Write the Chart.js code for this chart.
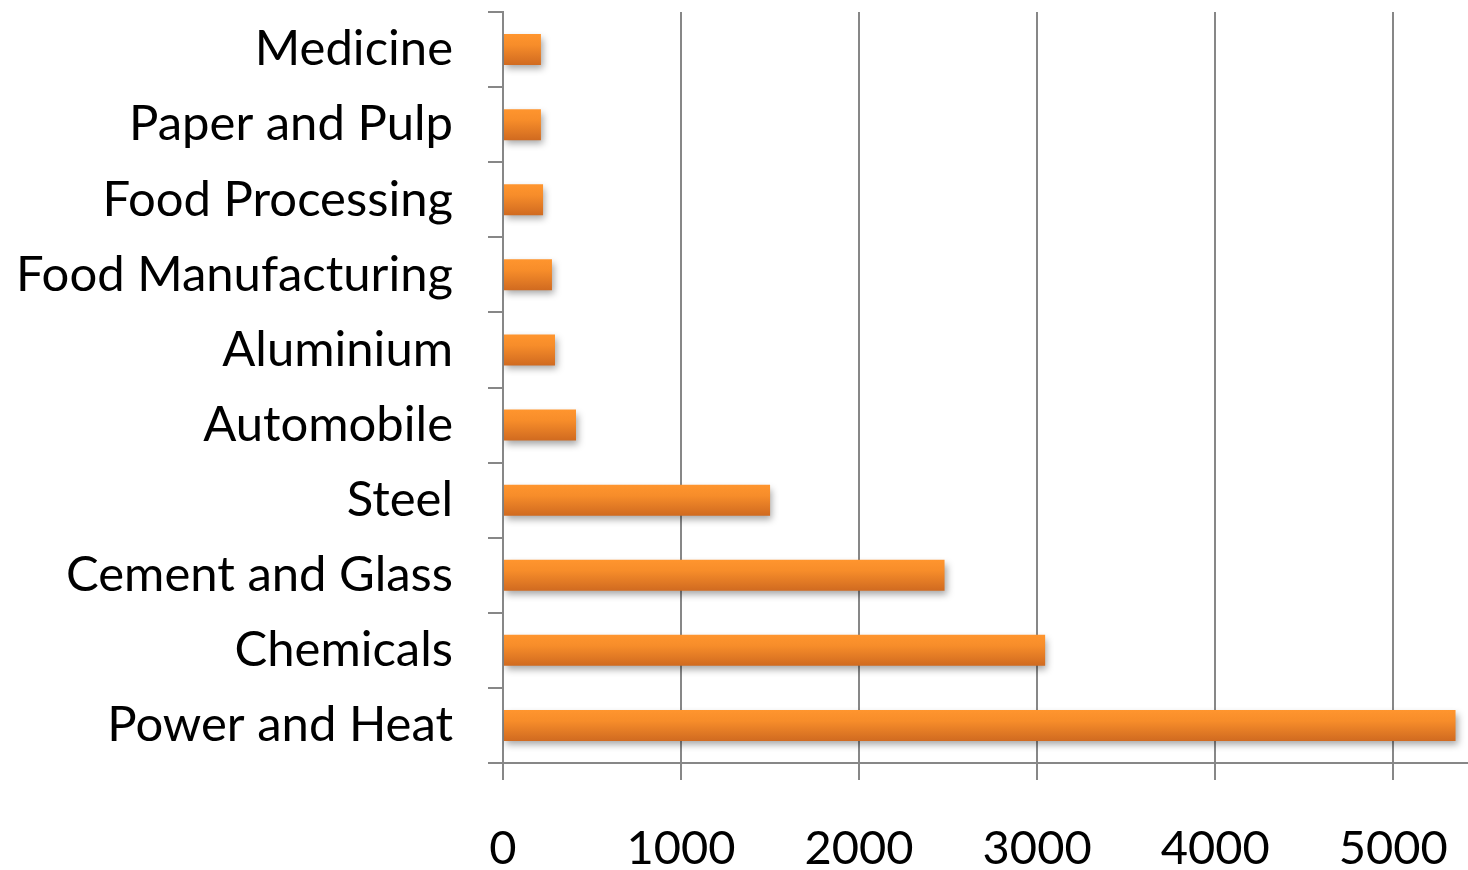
<!DOCTYPE html>
<html>
<head>
<meta charset="utf-8">
<title>Industry chart</title>
<script src="https://cdn.jsdelivr.net/npm/chart.js@4"></script>
<style>
  html, body { margin: 0; padding: 0; background: #fff; }
  #wrap { width: 1468px; height: 870px; }
</style>
</head>
<body>
<div id="wrap">
  <canvas id="industryChart" width="1468" height="870"></canvas>
</div>
<script>
// data
const categories = [
  "Medicine",
  "Paper and Pulp",
  "Food Processing",
  "Food Manufacturing",
  "Aluminium",
  "Automobile",
  "Steel",
  "Cement and Glass",
  "Chemicals",
  "Power and Heat"
];
const values = [213, 213, 225, 275, 292, 410, 1500, 2480, 3045, 5350];
const xTicks = [0, 1000, 2000, 3000, 4000, 5000];
const xMax = 5420;

const BAR_PCT = 0.413;
const AXIS_GREY = "#878787";
const FONT = "Lato, 'Open Sans', sans-serif";

// vertical orange gradient per bar
function barFill(ctx) {
  const chart = ctx.chart;
  const y = chart.scales && chart.scales.y;
  if (!y || y.top == null || ctx.dataIndex == null) return "#F28A2A";
  const c = y.getPixelForValue(ctx.dataIndex);
  const h = (y.bottom - y.top) / categories.length * BAR_PCT;
  const g = chart.ctx.createLinearGradient(0, c - h / 2, 0, c + h / 2);
  g.addColorStop(0, "#FF952E");
  g.addColorStop(0.35, "#F78D2A");
  g.addColorStop(1, "#D06A20");
  return g;
}

// soft drop shadow under the bars
const barShadow = {
  id: "barShadow",
  beforeDatasetDraw(chart) {
    const c = chart.ctx;
    c.save();
    c.shadowColor = "rgba(0,0,0,0.35)";
    c.shadowBlur = 7;
    c.shadowOffsetX = 2;
    c.shadowOffsetY = 4;
  },
  afterDatasetDraw(chart) {
    chart.ctx.restore();
  }
};

new Chart(document.getElementById("industryChart"), {
  type: "bar",
  data: {
    labels: categories,
    datasets: [{
      data: values,
      backgroundColor: barFill,
      borderWidth: 0,
      categoryPercentage: 1,
      barPercentage: BAR_PCT
    }]
  },
  options: {
    indexAxis: "y",
    responsive: false,
    animation: false,
    devicePixelRatio: 1,
    layout: { padding: { top: 12, right: 0, left: 0, bottom: 0 } },
    plugins: {
      legend: { display: false },
      tooltip: { enabled: false }
    },
    scales: {
      x: {
        type: "linear",
        min: 0,
        max: xMax,
        afterBuildTicks(scale) {
          scale.ticks = xTicks.map(v => ({ value: v }));
        },
        afterFit(scale) {
          scale.height = 107;
          scale.paddingLeft = 0;
          scale.paddingRight = 0;
        },
        grid: {
          color: AXIS_GREY,
          lineWidth: 2,
          drawTicks: true,
          tickLength: 17,
          tickColor: AXIS_GREY
        },
        border: { display: true, color: AXIS_GREY, width: 2 },
        ticks: {
          color: "#000",
          padding: 41,
          maxRotation: 0,
          autoSkip: false,
          callback: v => String(v),
          font: { family: FONT, size: 47 }
        }
      },
      y: {
        type: "category",
        offset: true,
        afterFit(scale) {
          scale.width = 503;
          scale.paddingTop = 0;
          scale.paddingBottom = 0;
        },
        grid: {
          offset: true,
          drawOnChartArea: false,
          drawTicks: true,
          tickLength: 15,
          color: AXIS_GREY,
          lineWidth: 2
        },
        border: { display: true, color: AXIS_GREY, width: 2 },
        ticks: {
          color: "#000",
          padding: 35,
          font: { family: FONT, size: 49 }
        }
      }
    }
  },
  plugins: [barShadow]
});
</script>
</body>
</html>
